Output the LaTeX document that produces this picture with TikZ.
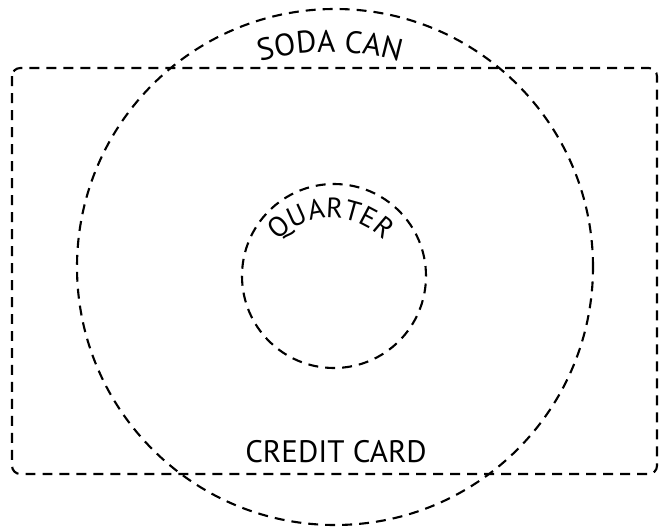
\documentclass[tikz,border=0pt]{standalone}
\usepackage{fontspec}
\setmainfont{PT Sans}
\usetikzlibrary{decorations.text}

\begin{document}
\begin{tikzpicture}[
      x=0.03cm, y=0.03cm,
      outline/.style={dash pattern=on 8.5pt off 6pt, line width=1.8pt},
      tag/.style={font=\fontsize{26.5}{30}\selectfont},
      arctext/.style={decorate, decoration={text along path, text align=center, text={#1}}}
    ]

    \useasboundingbox (0,0) rectangle (661,-531);

    % ---- centres and radii ----
    \def\cx{335}
    \def\cy{-267}
    \def\rcan{258}
    \def\qx{334}
    \def\qy{-276}
    \def\rq{92}

    % ================= CREDIT CARD =================
    \draw[outline, rounded corners=7pt] (12,-68) rectangle (657,-474);
    \node[tag] (card) at (336,-452) {CREDIT CARD};

    % ================= SODA CAN =================
    \draw[outline] (\cx,\cy) circle[radius=\rcan];
    \path[arctext={|\fontsize{26.5}{30}\selectfont|SODA CAN}]
      (330,-300) ++(160:248) arc[start angle=160, end angle=20, radius=248];

    % ================= QUARTER =================
    \draw[outline] (\qx,\qy) circle[radius=\rq];
    \path[arctext={|\fontsize{24}{28}\selectfont|QUARTER}]
      (331,-290) ++(175:72) arc[start angle=175, end angle=5, radius=72];

    \end{tikzpicture}
\end{document}
